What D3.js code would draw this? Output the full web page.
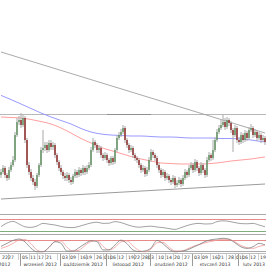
<!DOCTYPE html>
<html><head><meta charset="utf-8">
<script src="https://cdn.jsdelivr.net/npm/d3@7"></script>
<style>html,body{margin:0;padding:0;background:#fff;overflow:hidden}svg{display:block}</style>
</head><body><svg id="c" width="266" height="266"></svg>
<script>
// ---------- DATA ----------
const firstDay = "2012-08-20", lastDay = "2013-02-20";
const open  = [25,28,32,25,22,30,35,40,65,78,80,75,82,60,35,28,22,18,14,25,35,50,52,55,50,57,53,55,45,38,32,28,24,22,25,20,18,24,28,25,30,27,32,28,32,35,50,58,55,50,52,45,42,45,40,37,42,38,50,62,65,68,72,60,55,50,52,45,42,40,35,30,32,26,30,40,48,45,42,35,30,25,28,22,24,20,18,22,15,17,20,16,22,28,25,32,35,30,38,32,27,35,30,25,40,45,42,50,60,68,72,75,78,73,80,77,70,65,72,60,58,65,60,67,62,70,72,65,68,62,65,60,62];
const high  = [31,35,34,27,33,38,44,68,82,84,87,85,84,62,38,31,25,21,27,37,53,70,58,58,60,60,58,57,47,40,35,30,27,28,27,23,26,31,30,33,32,35,34,35,38,53,62,60,57,55,54,47,48,47,42,44,44,52,65,68,71,75,74,62,57,55,54,47,44,42,37,35,34,33,43,51,50,47,44,37,32,31,30,27,26,22,25,24,20,23,22,25,31,30,35,38,37,41,40,34,38,37,32,43,48,47,60,63,71,75,80,85,82,83,82,79,72,75,74,63,68,67,70,69,73,76,74,71,70,68,67,65,64];
const low   = [22,26,22,19,20,28,33,38,63,75,72,73,57,32,25,19,15,10,12,23,33,47,49,47,48,50,50,42,35,29,25,21,19,19,17,15,16,22,22,23,24,25,25,26,30,33,48,52,47,47,42,39,40,37,34,35,35,36,48,60,63,66,57,52,47,48,42,39,37,32,27,28,23,24,28,38,42,39,32,27,22,23,19,20,17,15,16,12,13,15,13,14,20,22,23,30,27,28,29,24,25,27,22,23,38,39,40,48,58,66,70,73,70,71,74,67,48,63,57,55,56,57,58,59,60,68,62,63,59,60,57,58,55];
const close = [28,32,25,22,30,35,40,65,78,80,75,82,60,35,28,22,18,14,25,35,50,52,55,50,57,53,55,45,38,32,28,24,22,25,20,18,24,28,25,30,27,32,28,32,35,50,58,55,50,52,45,42,45,40,37,42,38,50,62,65,68,72,60,55,50,52,45,42,40,35,30,32,26,30,40,48,45,42,35,30,25,28,22,24,20,18,22,15,17,20,16,22,28,25,32,35,30,38,32,27,35,30,25,40,45,42,50,60,68,72,75,78,73,80,77,70,65,72,60,58,65,60,67,62,70,72,65,68,62,65,60,62,58];
// moving averages, one value every 5 sessions (last = final session)
const maSlow = [104.6,100.4,96,91.5,87,83,79.5,76,71.5,68,66,65,64.5,64,64,63.5,63,63,62.5,62,62,62,61.5,61.5,61,60,58.5,58];
const maFast = [83,82.5,82,80.5,78.5,76,72,67,61.5,57,52.5,49.5,46.5,43.5,41,39,37,36.5,36,36,36,36.5,37.5,39,40,41,42.5,43];
// indicators, one value every 3 sessions
const rsi   = [42,60,68,55,41,38,45,58,54,50,43,38,37,43,52,60,64,58,59,67,62,52,43,39,42,44,40,37,32,28,37,47,55,58,55,56,67,71,68,62,57,56,58,50,41];
const stochK = [45,62,78,86,70,35,15,15,40,71,62,19,19,38,60,76,72,25,26,53,80,60,25,16,20,36,78,60,30,15,18,25,40,55,72,82,86,90,85,65,42,34,43,62,53];
const stochD = [34,45,62,80,83,60,25,16,40,72,75,40,19,24,50,72,78,45,25,40,70,76,48,22,15,30,65,68,40,20,19,30,45,55,65,73,80,84,84,70,50,38,34,45,53];
const rsiLevels = [80, 20];
const stochLevels = [80, 20];
// support / resistance lines [date, price]
const trendDown = [["2012-08-20",148],["2013-02-20",67]];
const trendUp   = [["2012-08-20",1],["2013-02-20",16]];
const resistance = 86;
// axis labels
const dayTicks = ["2012-08-22","2012-08-27","2012-09-05","2012-09-11","2012-09-17","2012-09-21","2012-10-03","2012-10-09","2012-10-16","2012-10-19","2012-10-26","2012-11-01","2012-11-06","2012-11-12","2012-11-19","2012-11-22","2012-11-28","2012-12-03","2012-12-10","2012-12-14","2012-12-20","2012-12-27","2013-01-03","2013-01-09","2013-01-16","2013-01-21","2013-01-28","2013-02-01","2013-02-06","2013-02-12","2013-02-19"];
const monthNames = ["sierpień 2012","wrzesień 2012","październik 2012","listopad 2012","grudzień 2012","styczeń 2013","luty 2013"];

// ---------- SCALES ----------
const parse = d3.timeParse("%Y-%m-%d"), fmt = d3.timeFormat("%Y-%m-%d");
const sessions = d3.timeDay.range(parse(firstDay), d3.timeDay.offset(parse(lastDay),1)).filter(d => d.getDay()!==0 && d.getDay()!==6).map(fmt);
const W = 266;
const x = d3.scaleBand().domain(sessions).range([0, W]).paddingInner(0.3).paddingOuter(0.15);
const cx = d => x(d) + x.bandwidth()/2;
const y = d3.scaleLinear().domain([0, 200]).range([200, 0]);
const yR = d3.scaleLinear().domain([0, 100]).range([235, 215]);
const yS = d3.scaleLinear().domain([0, 100]).range([254.5, 236.5]);

const svg = d3.select("#c");
svg.append("rect").attr("width",266).attr("height",266).attr("fill","#fff");

// ---------- MAIN PANEL ----------
const main = svg.append("g");
main.append("line").attr("x1",0).attr("x2",W).attr("y1",y(resistance)+0.5).attr("y2",y(resistance)+0.5).attr("stroke","#b8b8b8").attr("stroke-width",1);
main.append("line").attr("x1",cx(sessions[53])).attr("x2",cx(sessions[75])).attr("y1",y(resistance)+0.5).attr("y2",y(resistance)+0.5).attr("stroke","#909090").attr("stroke-width",1);

const lineTL = d3.line().x(d => cx(d[0])).y(d => y(d[1]));
main.append("path").attr("d", lineTL(trendDown)).attr("fill","none").attr("stroke","#a0a0a0").attr("stroke-width",0.9);
main.append("path").attr("d", lineTL(trendUp)).attr("fill","none").attr("stroke","#909090").attr("stroke-width",0.9);

const maIdx = (arr, step) => arr.map((v,k) => [Math.min(k*step, sessions.length-1), v]);
const lineMA = sc => d3.line().x(d => cx(sessions[d[0]])).y(d => sc(d[1])).curve(d3.curveMonotoneX);
main.append("path").attr("d", lineMA(y)(maIdx(maSlow,5))).attr("fill","none").attr("stroke","#9a9aff").attr("stroke-width",1);
main.append("path").attr("d", lineMA(y)(maIdx(maFast,5))).attr("fill","none").attr("stroke","#ff9f9f").attr("stroke-width",1);

const candles = sessions.map((d,i) => ({d, o:open[i], h:high[i], l:low[i], c:close[i]}));
main.selectAll(".wick").data(candles).join("line")
  .attr("x1", d => cx(d.d)).attr("x2", d => cx(d.d))
  .attr("y1", d => y(d.h)).attr("y2", d => y(d.l))
  .attr("stroke","#a8a8a8").attr("stroke-width",1);
main.selectAll(".body").data(candles).join("rect")
  .attr("x", d => x(d.d)).attr("width", x.bandwidth())
  .attr("y", d => y(Math.max(d.o,d.c)))
  .attr("height", d => Math.max(1, Math.abs(y(d.o)-y(d.c))))
  .attr("fill", d => d.c >= d.o ? "#5d8f5d" : "#8e2323");

// ---------- RSI PANEL ----------
const grid = (yy, col) => svg.append("line").attr("x1",0).attr("x2",W).attr("y1",yy).attr("y2",yy).attr("stroke",col).attr("stroke-width",1);
grid(214.5, "#a9a9a9");
grid(Math.round(yR(rsiLevels[0]))+0.5, "#e88a8a");
grid(Math.round(yR(rsiLevels[1]))+0.5, "#7fae7f");
grid(234.5, "#a9a9a9");
svg.append("path").attr("d", lineMA(yR)(maIdx(rsi,3))).attr("fill","none").attr("stroke","#8a8a8a").attr("stroke-width",0.8);

// ---------- STOCHASTIC PANEL ----------
grid(Math.round(yS(stochLevels[0]))+0.5, "#e88a8a");
grid(Math.round(yS(stochLevels[1]))+0.5, "#a9a9a9");
svg.append("path").attr("d", lineMA(yS)(maIdx(stochD,3))).attr("fill","none").attr("stroke","#f29a9a").attr("stroke-width",0.8);
svg.append("path").attr("d", lineMA(yS)(maIdx(stochK,3))).attr("fill","none").attr("stroke","#808080").attr("stroke-width",0.8);

// ---------- DATE AXIS ----------
const ax = svg.append("g").attr("font-family","DejaVu Sans, sans-serif").attr("fill","#333");
grid(253.5, "#bdbdbd");
const monthStarts = [];
sessions.forEach((s,i) => { if (i===0 || s.slice(0,7)!==sessions[i-1].slice(0,7)) monthStarts.push(i); });
const tickX = dayTicks.map(cx);
tickX.forEach((tx,k) => {
  if (k>0) {
    const mid = (tx + tickX[k-1])/2;
    ax.append("line").attr("x1",Math.round(mid)+0.5).attr("x2",Math.round(mid)+0.5).attr("y1",253.5).attr("y2",260).attr("stroke","#cfcfcf");
  }
});
ax.selectAll(".dl").data(dayTicks).join("text")
  .attr("x", d => cx(d)).attr("y", 259).attr("text-anchor","middle")
  .attr("font-size", 4.6).text(d => d.slice(8,10));
monthStarts.forEach((si,m) => {
  const x0 = m===0 ? 0 : x(sessions[si]) - x.step()*0.15;
  if (m>0) ax.append("line").attr("x1",Math.round(x0)+0.5).attr("x2",Math.round(x0)+0.5).attr("y1",253.5).attr("y2",266).attr("stroke","#9a9a9a");
  const last = m===monthStarts.length-1;
  const x1 = last ? W : x(sessions[monthStarts[m+1]]);
  let mx = (x0 + x1)/2;
  let anchor = "middle";
  if (m===0) { mx = x1 - 10; anchor = "end"; }
  if (last) { mx = Math.min(mx + 2, W - 1); }
  ax.append("text").attr("x", mx).attr("y", 265.5).attr("text-anchor",anchor).attr("font-size",4.6).text(monthNames[m]);
});
</script></body></html>
